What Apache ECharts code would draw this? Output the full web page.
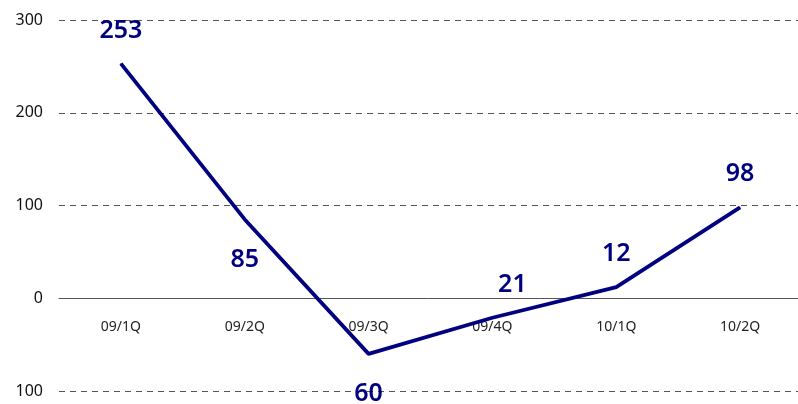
<!DOCTYPE html>
<html>
<head>
<meta charset="utf-8">
<script src="https://cdn.jsdelivr.net/npm/echarts@6/dist/echarts.min.js"></script>
<style>
  html, body { margin: 0; padding: 0; background: #fff; }
  #main { width: 798px; height: 404px; }
</style>
</head>
<body>
<div id="main"></div>
<script>
// quarters on the x axis
const quarters = ['09/1Q', '09/2Q', '09/3Q', '09/4Q', '10/1Q', '10/2Q'];
// values
const values = [253, 85, -60, -21, 12, 98];
// where each value label sits relative to its point
const labelSide = ['top', 'bottom', 'bottom', 'top', 'top', 'top'];
const labelShift = [[0, 0], [0, 0], [0, 0], [20, 0], [0, 0], [0, 0]];

const chart = echarts.init(document.getElementById('main'), null, { renderer: 'canvas' });

const navy = '#000080';

const option = {
  animation: false,
  grid: { left: 59, right: -4, top: 20, bottom: 13, containLabel: false, outerBoundsMode: 'none' },
  xAxis: {
    type: 'category',
    data: quarters,
    boundaryGap: true,
    position: 'bottom',
    offset: -92.75,
    axisLine: { onZero: false, lineStyle: { color: '#555', width: 1 } },
    axisTick: { show: false },
    axisLabel: { color: '#222', fontSize: 14, margin: 22, fontFamily: 'Noto Sans' }
  },
  yAxis: {
    type: 'value',
    min: -100,
    max: 300,
    interval: 100,
    axisLine: { show: false },
    axisTick: { show: false },
    axisLabel: {
      color: '#111',
      fontSize: 16,
      margin: 16,
      fontFamily: 'Noto Sans',
      formatter: v => String(Math.abs(v))
    },
    splitLine: { lineStyle: { color: '#555', type: [6, 5], width: 1 } }
  },
  series: [{
    type: 'line',
    data: values.map((v, i) => ({
      value: v,
      label: {
        position: labelSide[i],
        offset: labelShift[i],
        distance: labelSide[i] === 'top' ? 20 : 27
      }
    })),
    symbol: 'circle',
    symbolSize: 1,
    itemStyle: { color: navy },
    lineStyle: { color: navy, width: 3.8 },
    label: {
      show: true,
      color: navy,
      fontSize: 25,
      fontWeight: 600,
      fontFamily: 'Noto Sans',
      formatter: p => String(Math.abs(p.value))
    }
  }]
};

chart.setOption(option);
</script>
</body>
</html>
